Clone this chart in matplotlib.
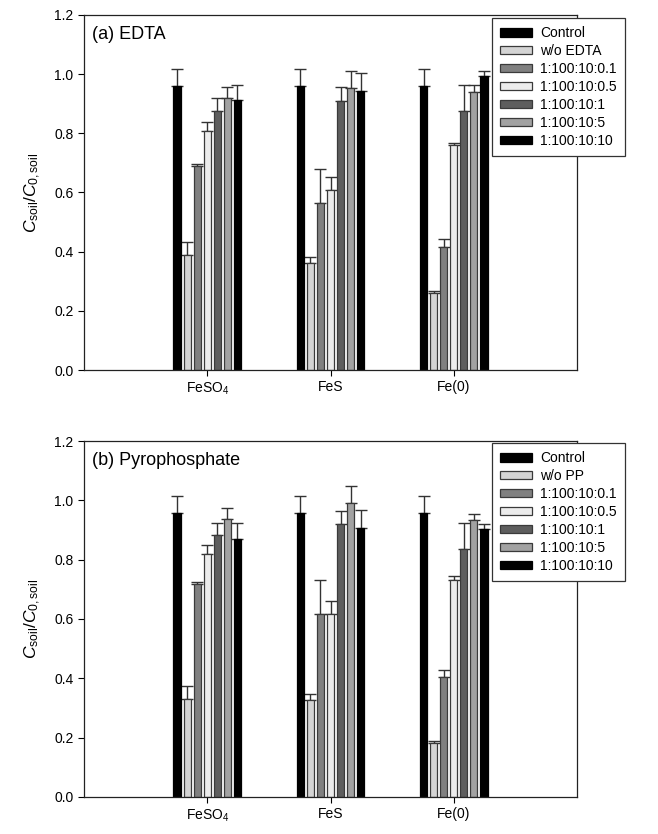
import matplotlib
matplotlib.use("Agg")
import matplotlib.pyplot as plt
import numpy as np

plt.rcParams['font.family'] = ['Liberation Sans', 'DejaVu Sans']
plt.rcParams['mathtext.fontset'] = 'custom'
plt.rcParams['mathtext.rm'] = 'Liberation Sans'
plt.rcParams['mathtext.it'] = 'Liberation Sans:italic'

categories = ['FeSO$_4$', 'FeS', 'Fe(0)']
series_a = ['Control', 'w/o EDTA', '1:100:10:0.1', '1:100:10:0.5', '1:100:10:1', '1:100:10:5', '1:100:10:10']
series_b = ['Control', 'w/o PP', '1:100:10:0.1', '1:100:10:0.5', '1:100:10:1', '1:100:10:5', '1:100:10:10']
colors = ['#000000', '#d4d4d4', '#808080', '#ececec', '#5e5e5e', '#a2a2a2', '#000000']

# values[series][category]
vals_a = [
    [0.961, 0.961, 0.961],
    [0.389, 0.362, 0.259],
    [0.689, 0.565, 0.417],
    [0.809, 0.610, 0.759],
    [0.876, 0.910, 0.876],
    [0.918, 0.954, 0.940],
    [0.912, 0.944, 0.995],
]
err_a = [
    [0.057, 0.057, 0.057],
    [0.044, 0.021, 0.009],
    [0.008, 0.114, 0.026],
    [0.030, 0.041, 0.009],
    [0.042, 0.046, 0.089],
    [0.038, 0.057, 0.022],
    [0.052, 0.060, 0.015],
]
vals_b = [
    [0.957, 0.957, 0.957],
    [0.329, 0.328, 0.181],
    [0.717, 0.616, 0.403],
    [0.818, 0.618, 0.733],
    [0.883, 0.919, 0.836],
    [0.936, 0.991, 0.935],
    [0.871, 0.907, 0.905],
]
err_b = [
    [0.057, 0.057, 0.057],
    [0.044, 0.020, 0.009],
    [0.008, 0.114, 0.025],
    [0.032, 0.041, 0.012],
    [0.041, 0.045, 0.088],
    [0.038, 0.057, 0.020],
    [0.052, 0.060, 0.015],
]
yticks = [0.0, 0.2, 0.4, 0.6, 0.8, 1.0, 1.2]

fig = plt.figure(figsize=(6.58, 8.34), dpi=100)
ax1 = fig.add_axes([84/658, 1-370/834, (577-84)/658, (370-15)/834])
ax2 = fig.add_axes([84/658, 1-797/834, (577-84)/658, (797-441)/834])

slot = 0.0813
bw = 0.06
x = np.arange(len(categories))

def draw(ax, vals, errs, names, title, legend_bbox):
    n = len(vals)
    handles = []
    for i in range(n):
        xs = x + (i - (n-1)/2) * slot
        ec = '#000000' if colors[i] == '#000000' else '#3a3a3a'
        b = ax.bar(xs, vals[i], width=bw, color=colors[i], edgecolor=ec, linewidth=0.9, zorder=2)
        ax.errorbar(xs, vals[i], yerr=[np.zeros(len(x)), errs[i]], fmt='none',
                    ecolor='#333333', elinewidth=1.0, capsize=4.2, capthick=1.0, zorder=1)
        handles.append(b)
    ax.set_xlim(-1, 3)
    ax.set_ylim(0, 1.2)
    ax.set_yticks(yticks)
    ax.set_yticklabels([f'{t:.1f}' for t in yticks], fontsize=10)
    ax.set_xticks(x)
    ax.set_xticklabels(categories, fontsize=10)
    ax.tick_params(direction='out', length=4, width=0.8)
    for s in ax.spines.values():
        s.set_linewidth(0.9)
        s.set_color('#222222')
    ax.set_ylabel(r'$C_{\rm soil}/C_{0,\rm soil}$', fontsize=12.5, labelpad=8)
    ax.text(0.016, 0.97, title, transform=ax.transAxes, fontsize=13, va='top', ha='left')
    leg = fig.legend(handles, names, loc='upper left', bbox_to_anchor=legend_bbox,
                     bbox_transform=fig.transFigure, fontsize=10, frameon=True, fancybox=False,
                     edgecolor='#333333', framealpha=1, handlelength=2.3, handleheight=0.55,
                     labelspacing=0.28, borderpad=0.6, handletextpad=0.55, borderaxespad=0)
    leg.get_frame().set_linewidth(0.9)

draw(ax1, vals_a, err_a, series_a, '(a) EDTA', (492/658, 1-18/834))
draw(ax2, vals_b, err_b, series_b, '(b) Pyrophosphate', (492/658, 1-443/834))

fig.savefig('out.png', dpi=100)
